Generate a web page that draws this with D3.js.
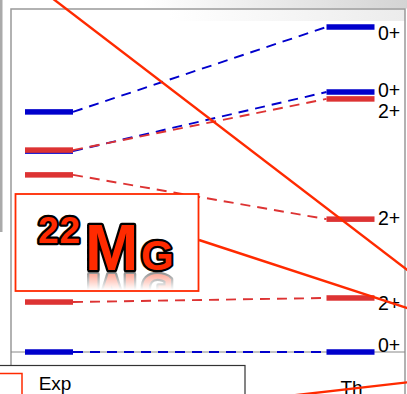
<!DOCTYPE html>
<html>
<head>
<meta charset="utf-8">
<script src="https://cdn.jsdelivr.net/npm/d3@7"></script>
<style>
  html, body { margin: 0; padding: 0; background: #fff; overflow: hidden; }
  svg { display: block; }
</style>
</head>
<body>
<svg id="chart" width="407" height="394"></svg>
<script>
// level energies in MeV
const columns = ["Exp", "Th"];
const expEnergy = [0.0, 1.23, 4.36, 4.945, 4.97, 5.91];
const expSpin   = ["0+", "2+", "2+", "0+", "2+", "0+"];
const thEnergy  = [0.0, 1.33, 3.27, 6.40, 6.23, 8.0];
const thSpin    = ["0+", "2+", "2+", "0+", "2+", "0+"];
// where each Th spin label sits (MeV)
const thLabelE  = [0.0, 1.03, 3.13, 6.28, 5.76, 7.68];

const width = 407, height = 394;
const svg = d3.select('#chart');
const defs = svg.append('defs');

const x = d3.scalePoint().domain(columns).range([49, 350.5]);
const y = d3.scaleLinear().domain([0, 8]).range([352, 27]);
const barW = 48;

const color = j => j === '0+' ? '#0000cc' : '#dd3333';
const red = '#ff2a00';
const labelFont = '"Liberation Sans Narrow", "Arial Narrow", "Liberation Sans", sans-serif';

// top shadow
let g1 = defs.append('linearGradient').attr('id', 'topShade');
g1.append('stop').attr('offset', '0.35').attr('stop-color', '#fff');
g1.append('stop').attr('offset', '1').attr('stop-color', '#d4d4d4');
svg.append('rect').attr('x', 0).attr('y', 0).attr('width', width).attr('height', 8.5)
  .attr('fill', 'url(#topShade)');

let g2 = defs.append('linearGradient').attr('id', 'innerShade');
g2.append('stop').attr('offset', '0.4').attr('stop-color', '#fff');
g2.append('stop').attr('offset', '1').attr('stop-color', '#ececec');
svg.append('rect').attr('x', 12).attr('y', 9).attr('width', 393).attr('height', 12)
  .attr('fill', 'url(#innerShade)');

// left strip
svg.append('rect').attr('x', 0).attr('y', 0).attr('width', 2.5).attr('height', 232)
  .attr('fill', '#aaa');

// frame
svg.append('rect')
  .attr('x', 11).attr('y', 9).attr('width', 394).attr('height', 395)
  .attr('fill', 'none').attr('stroke', '#999').attr('stroke-width', 1.5);

// zero line
svg.append('line')
  .attr('x1', 11).attr('x2', 405).attr('y1', y(0)).attr('y2', y(0))
  .attr('stroke', '#888').attr('stroke-width', 1);

const links = expEnergy.map((e, i) => ({e0: e, e1: thEnergy[i], j: expSpin[i]}));

// dashed connections
svg.append('g').selectAll('line')
  .data(links)
  .enter()
  .append('line')
  .attr('x1', x('Exp') + barW / 2)
  .attr('x2', x('Th') - barW / 2)
  .attr('y1', d => y(d.e0))
  .attr('y2', d => y(d.e1))
  .attr('stroke', d => color(d.j))
  .attr('stroke-width', 1.9)
  .attr('stroke-dasharray', '10,7');

function drawLevels(col, energy, spin) {
  svg.append('g').selectAll('rect')
    .data(energy.map((e, i) => ({e: e, j: spin[i]})))
    .enter()
    .append('rect')
    .attr('x', x(col) - barW / 2)
    .attr('y', d => y(d.e) - 2.75)
    .attr('width', barW)
    .attr('height', 5.5)
    .attr('fill', d => color(d.j));
}
drawLevels('Exp', expEnergy, expSpin);
drawLevels('Th', thEnergy, thSpin);

// spin labels on the right
svg.append('g').selectAll('text')
  .data(thSpin)
  .enter()
  .append('text')
  .attr('x', x('Th') + barW / 2 + 3.5)
  .attr('y', (d, i) => y(thLabelE[i]))
  .attr('font-family', labelFont)
  .attr('font-size', 19.5)
  .attr('fill', '#000')
  .text(d => d);

// legend boxes at the bottom
svg.append('rect').attr('x', -10).attr('y', 365.5).attr('width', 255).attr('height', 60)
  .attr('fill', '#fff').attr('stroke', '#333').attr('stroke-width', 1.2);
svg.append('rect').attr('x', -5).attr('y', 373.5).attr('width', 27).attr('height', 40)
  .attr('fill', '#fff').attr('stroke', red).attr('stroke-width', 1.5);

svg.selectAll('.col-label')
  .data(columns)
  .enter()
  .append('text')
  .attr('class', 'col-label')
  .attr('x', d => x(d) + (d === 'Exp' ? 6 : 1))
  .attr('y', d => d === 'Exp' ? 390 : 394)
  .attr('text-anchor', 'middle')
  .attr('font-family', labelFont)
  .attr('font-size', 19)
  .attr('fill', '#000')
  .text(d => d);

// 22Mg badge
const badge = svg.append('g');
badge.append('rect').attr('x', 15.5).attr('y', 194).attr('width', 183).attr('height', 97)
  .attr('fill', '#fff').attr('stroke', red).attr('stroke-width', 1.8);

function mgText(parent) {
  const t = parent.append('g')
    .attr('font-family', '"Liberation Sans", Arial, sans-serif')
    .attr('font-weight', 'bold')
    .attr('fill', red)
    .attr('stroke', '#000')
    .attr('stroke-width', 4.5)
    .attr('stroke-linejoin', 'round')
    .attr('paint-order', 'stroke');
  t.append('text').attr('x', 38).attr('y', 243).attr('font-size', 37)
    .attr('letter-spacing', 1).text('22');
  t.append('text').attr('x', 85).attr('y', 270).attr('font-size', 64).text('M');
  t.append('text').attr('x', 141).attr('y', 270).attr('font-size', 42).text('G');
  return t;
}
mgText(badge);

// faded reflection under the badge text
let fade = defs.append('linearGradient').attr('id', 'fade').attr('x1', 0).attr('x2', 0).attr('y1', 0).attr('y2', 1);
fade.append('stop').attr('offset', '0').attr('stop-color', '#fff').attr('stop-opacity', 0.45);
fade.append('stop').attr('offset', '1').attr('stop-color', '#fff').attr('stop-opacity', 0);
defs.append('mask').attr('id', 'reflMask').attr('maskContentUnits', 'userSpaceOnUse')
  .append('rect').attr('x', 15).attr('y', 272).attr('width', 184).attr('height', 18)
  .attr('fill', 'url(#fade)');
const refl = badge.append('g').attr('mask', 'url(#reflMask)')
  .append('g').attr('transform', 'translate(0,' + (2 * 272) + ') scale(1,-1)');
mgText(refl);

// overlay strokes
const overlay = [
  [[52, -2], [410, 272]],
  [[199, 240], [410, 309]],
  [[288, 396], [410, 382]]
];
svg.append('g').selectAll('path')
  .data(overlay)
  .enter()
  .append('path')
  .attr('d', d => d3.line()(d))
  .attr('fill', 'none')
  .attr('stroke', red)
  .attr('stroke-width', 2.4);
</script>
</body>
</html>
